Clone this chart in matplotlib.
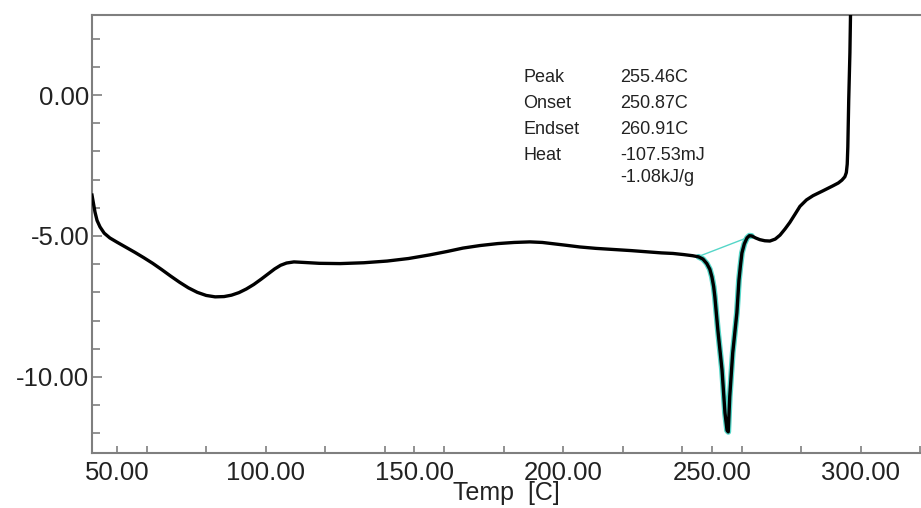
import matplotlib
matplotlib.use("Agg")
import matplotlib.pyplot as plt
import numpy as np

plt.rcParams['font.family'] = ['Liberation Sans', 'DejaVu Sans']

# DSC curve (Temp [C], heat flow)
temp = [41.6, 42.1, 42.6, 43.3, 44.3, 45.7, 47.6, 50.0, 53.0, 56.0, 59.0, 62.0,
        65.0, 68.0, 71.0, 74.0, 77.0, 80.0, 83.0, 86.0, 88.5, 91.0, 93.5,
        96.0, 98.5, 101.0, 103.0, 105.0, 107.0, 109.5, 113.0, 118.0, 125.0,
        133.0, 140.8, 148.0, 155.2, 161.0, 166.3, 172.0, 178.0, 183.5, 188.8,
        193.0, 197.0, 201.0, 205.6, 211.0, 217.0, 223.0, 229.2, 233.0, 236.9,
        240.5, 243.5, 245.5, 247.0, 248.3, 249.3, 250.0, 250.6, 251.0, 252.0,
        253.4, 254.4, 255.1, 255.5, 256.0, 257.0, 258.4, 259.1, 259.6, 260.1,
        260.9, 261.8, 262.6, 263.4, 264.7, 266.1, 267.8, 269.5, 271.3, 272.9,
        274.6, 276.2, 278.0, 279.6, 281.8, 284.0, 287.3, 290.7, 292.5, 293.7,
        294.7, 295.2, 295.5, 295.7, 296.0, 296.4, 296.7]
heat = [-3.55, -3.85, -4.15, -4.45, -4.68, -4.90, -5.07, -5.22, -5.40, -5.58, -5.77, -5.97,
        -6.19, -6.42, -6.64, -6.84, -7.00, -7.11, -7.16, -7.15, -7.10, -7.01, -6.88,
        -6.72, -6.53, -6.33, -6.17, -6.04, -5.96, -5.92, -5.94, -5.97, -5.98,
        -5.95, -5.89, -5.80, -5.67, -5.55, -5.43, -5.34, -5.27, -5.23, -5.21,
        -5.23, -5.28, -5.33, -5.39, -5.44, -5.48, -5.52, -5.57, -5.60, -5.62,
        -5.66, -5.70, -5.74, -5.82, -5.98, -6.18, -6.45, -6.80, -7.16, -8.33,
        -9.75, -11.28, -11.9, -11.95, -10.7, -9.15, -7.73, -6.56, -6.05, -5.60,
        -5.28, -5.07, -4.99, -5.00, -5.07, -5.13, -5.17, -5.18, -5.11, -4.97,
        -4.75, -4.52, -4.22, -3.95, -3.72, -3.57, -3.40, -3.22, -3.12, -3.02,
        -2.90, -2.75, -2.45, -1.84, -0.18, 1.5, 3.5]

# Peak analysis range (baseline start / end temperatures)
peak_start, peak_end = 245.3, 263.4

labels = ["Peak", "Onset", "Endset", "Heat", ""]
values = ["255.46C", "250.87C", "260.91C", "-107.53mJ", "-1.08kJ/g"]

xtick_vals = [50, 100, 150, 200, 250, 300]
ytick_vals = [0, -5, -10]

W, H = 921, 508
fig = plt.figure(figsize=(W / 100, H / 100), dpi=100)
ax = fig.add_axes([92 / W, (H - 453) / H, (W - 92) / W, (453 - 15) / H])

t = np.array(temp)
h = np.array(heat)
mask = (t >= peak_start - 0.5) & (t <= peak_end)
ax.plot(t[mask], h[mask], color='#55d6c8', lw=4.2, solid_capstyle='round', zorder=2)
hs = np.interp(peak_start, t, h)
he = np.interp(peak_end, t, h)
ax.plot([peak_start, peak_end], [hs, he], color='#55d6c8', lw=1.0, zorder=2)
ax.plot(t, h, color='black', lw=2.4, zorder=3, solid_joinstyle='round')

ax.set_xlim(41.6, 320.3)
ax.set_ylim(-12.70, 2.84)

gray = '#7f7f7f'
for s in ['left', 'bottom', 'top']:
    ax.spines[s].set_color(gray)
    ax.spines[s].set_linewidth(1.5)
ax.spines['right'].set_visible(False)

ax.set_xticks(xtick_vals)
ax.set_xticklabels([f"{v:.2f}" for v in xtick_vals])
minor_x = sorted(set(list(range(60, 321, 20))) - set(xtick_vals))
ax.set_xticks(minor_x, minor=True)
ax.set_yticks(ytick_vals)
ax.set_yticklabels([f"{v:.2f}" for v in ytick_vals])
ax.set_yticks([v for v in range(-12, 3) if v not in ytick_vals], minor=True)

ax.tick_params(axis='both', which='both', direction='in', color=gray, width=1.2,
               labelsize=18.5, labelcolor='#222222')
ax.tick_params(axis='x', which='major', length=5, pad=6)
ax.tick_params(axis='x', which='minor', length=5)
ax.tick_params(axis='y', which='major', length=7, pad=2)
ax.tick_params(axis='y', which='minor', length=6)

ax.set_xlabel("Temp  [C]", fontsize=18, color='#222222', labelpad=-3)

ys = [78, 103, 129, 156, 178]
for lab, val, y in zip(labels, values, ys):
    fig.text(523 / W, 1 - y / H, lab, fontsize=13, color='#222222', va='center', ha='left')
    fig.text(620 / W, 1 - y / H, val, fontsize=13, color='#222222', va='center', ha='left')

fig.savefig("out.png", dpi=100)
